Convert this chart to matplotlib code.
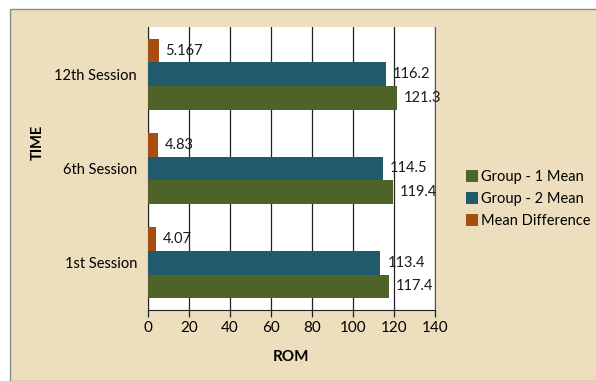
import numpy as np
import matplotlib.pyplot as plt
from matplotlib.patches import Rectangle

# ROM means per session
sessions = ["1st Session", "6th Session", "12th Session"]
group1_mean = [117.4, 119.4, 121.3]
group2_mean = [113.4, 114.5, 116.2]
mean_diff = [4.07, 4.83, 5.167]
diff_labels = ["4.07", "4.83", "5.167"]

series_names = ["Group - 1 Mean", "Group - 2 Mean", "Mean Difference"]
colors = ["#4f6228", "#215a6b", "#a64d10"]

plt.rcParams['font.family'] = ['Lato', 'DejaVu Sans']

fig = plt.figure(figsize=(5.96, 3.81), dpi=100)
fig.patch.set_facecolor("white")

# parchment panel with a thin grey border, kept behind the axes
panel = Rectangle((10 / 596, 0), 1.0, 1 - 9 / 381, transform=fig.transFigure,
                  facecolor="#eddebe", edgecolor="#8a8a8a", linewidth=1.0, zorder=-5)
fig.patches.append(panel)

ax = fig.add_axes([148 / 596, 1 - 310 / 381, 287 / 596, 283 / 381])
ax.set_facecolor("white")

y = np.arange(len(sessions))
h = 0.25
bars = [
    ax.barh(y - h, group1_mean, height=h, color=colors[0], label=series_names[0], zorder=3),
    ax.barh(y, group2_mean, height=h, color=colors[1], label=series_names[1], zorder=3),
    ax.barh(y + h, mean_diff, height=h, color=colors[2], label=series_names[2], zorder=3),
]

labels = [[f"{v:.1f}" for v in group1_mean],
          [f"{v:.1f}" for v in group2_mean],
          diff_labels]
for bc, labs in zip(bars, labels):
    for rect, lab in zip(bc, labs):
        ax.annotate(lab, (rect.get_width(), rect.get_y() + rect.get_height() / 2),
                    xytext=(5, 0), textcoords="offset points",
                    va="center", ha="left", fontsize=10.5, color="#1a1a1a", zorder=4)

ax.set_xlim(0, 140)
ax.set_ylim(-0.5, 2.5)
ax.set_xticks(np.arange(0, 141, 20))
ax.set_yticks(y)
ax.set_yticklabels(sessions)

ax.grid(axis="x", color="#222222", linewidth=0.9, zorder=1)
ax.tick_params(axis="x", length=5, width=0.9, color="#222222", labelsize=11, pad=3)
ax.tick_params(axis="y", length=0, labelsize=10.5, pad=8)

ax.spines["top"].set_visible(False)
ax.spines["left"].set_color("#222222")
ax.spines["bottom"].set_color("#222222")
ax.spines["right"].set_color("#555555")

ax.set_xlabel("ROM", fontsize=11, fontweight="bold", labelpad=11)
fig.text(38 / 596, 1 - 142 / 381, "TIME", rotation=90, fontsize=10.5,
         fontweight="bold", ha="center", va="center")

handles = [bars[0], bars[1], bars[2]]
leg = fig.legend(handles, series_names, loc="center left",
                 bbox_to_anchor=(460 / 596, 1 - 199 / 381), frameon=False,
                 fontsize=10.5, handlelength=0.85, handleheight=0.85,
                 handletextpad=0.2, labelspacing=0.55, borderaxespad=0)

fig.savefig("out.png", dpi=100)
